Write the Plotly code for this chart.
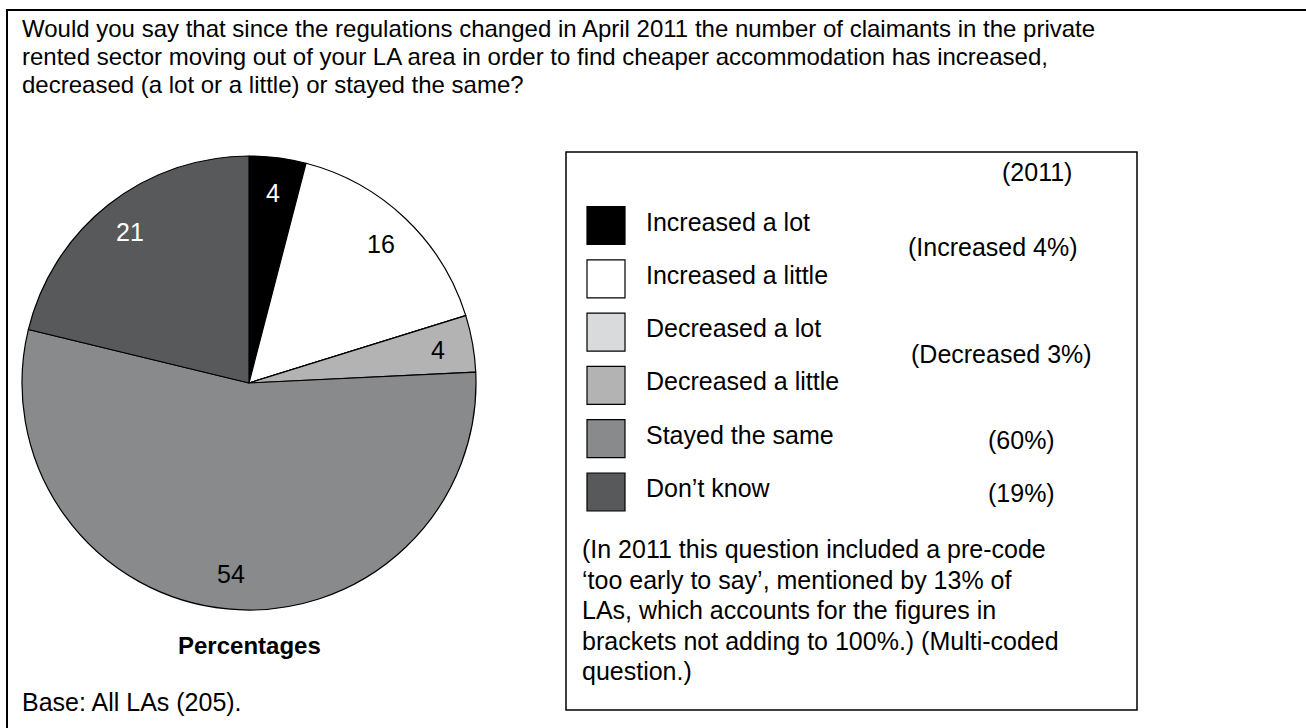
import math
import plotly.graph_objects as go

categories = ["Increased a lot", "Increased a little", "Decreased a lot",
              "Decreased a little", "Stayed the same", "Don\u2019t know"]
values_2012 = [4, 16, 0, 4, 54, 21]
labels_2011 = ["", "(Increased 4%)", "", "(Decreased 3%)", "(60%)", "(19%)"]
colors = ["#000000", "#ffffff", "#d9dadb", "#b3b3b3", "#898a8c", "#58595b"]
text_colors = ["#ffffff", "#000000", "#000000", "#000000", "#000000", "#ffffff"]

W, H = 1306, 728
FONT = "Liberation Sans, Arial, sans-serif"


def px(x):
    return x / W


def py(y):
    return 1 - y / H


cx, cy, r = 249, 383, 227

fig = go.Figure()
fig.add_trace(go.Pie(
    labels=categories,
    values=values_2012,
    textinfo="none",
    marker=dict(colors=colors, line=dict(color="#000000", width=1.2)),
    sort=False,
    direction="clockwise",
    rotation=0,
    showlegend=False,
    hoverinfo="label+value",
    domain=dict(x=[px(cx - r), px(cx + r)], y=[py(cy + r), py(cy - r)]),
))

shapes = []
annotations = []

# slice value labels, placed at each slice's mid-angle (derived from the data)
total = sum(values_2012)
cum = 0
for v, tc in zip(values_2012, text_colors):
    if v:
        mid = (cum + v / 2) / total * 2 * math.pi
        lr = 0.845 * r
        annotations.append(dict(x=px(cx + lr * math.sin(mid)), y=py(cy - lr * math.cos(mid)),
                                xref="paper", yref="paper", text=str(v), showarrow=False,
                                xanchor="center", yanchor="middle",
                                font=dict(size=25, color=tc, family=FONT)))
    cum += v

# outer frame (top and left)
shapes.append(dict(type="line", xref="paper", yref="paper",
                   x0=px(6), x1=1, y0=py(10), y1=py(10),
                   line=dict(color="#000000", width=2)))
shapes.append(dict(type="line", xref="paper", yref="paper",
                   x0=px(7), x1=px(7), y0=py(10), y1=0,
                   line=dict(color="#000000", width=2)))

# question text
question = ["Would you say that since the regulations changed in April 2011 the number of claimants in the private",
            "rented sector moving out of your LA area in order to find cheaper accommodation has increased,",
            "decreased (a lot or a little) or stayed the same?"]
for i, line in enumerate(question):
    annotations.append(dict(x=px(20), y=py(29 + 27.5 * i), xref="paper", yref="paper",
                            text=line, showarrow=False, xanchor="left", yanchor="middle",
                            font=dict(size=24, color="#000000", family=FONT)))

annotations.append(dict(x=px(cx), y=py(645), xref="paper", yref="paper",
                        text="<b>Percentages</b>", showarrow=False,
                        xanchor="center", yanchor="middle",
                        font=dict(size=24, color="#000000", family=FONT)))
annotations.append(dict(x=px(20), y=py(702), xref="paper", yref="paper",
                        text="Base: All LAs (205).", showarrow=False,
                        xanchor="left", yanchor="middle",
                        font=dict(size=25, color="#000000", family=FONT)))

# legend box
shapes.append(dict(type="rect", xref="paper", yref="paper",
                   x0=px(566), x1=px(1137), y0=py(710), y1=py(152),
                   line=dict(color="#000000", width=1.5), fillcolor="rgba(0,0,0,0)"))

annotations.append(dict(x=px(1037), y=py(172), xref="paper", yref="paper",
                        text="(2011)", showarrow=False, xanchor="center", yanchor="middle",
                        font=dict(size=25, color="#000000", family=FONT)))

row0, step = 225.5, 53.3
pos_2011 = {1: (993, 247), 3: (1002, 354), 4: (1021, 440), 5: (1021, 493)}
for i, (cat, col) in enumerate(zip(categories, colors)):
    yc = row0 + step * i
    shapes.append(dict(type="rect", xref="paper", yref="paper",
                       x0=px(587), x1=px(625), y0=py(yc + 19), y1=py(yc - 19),
                       line=dict(color="#000000", width=1.2), fillcolor=col))
    annotations.append(dict(x=px(644), y=py(yc - 4), xref="paper", yref="paper",
                            text=cat, showarrow=False, xanchor="left", yanchor="middle",
                            font=dict(size=25, color="#000000", family=FONT)))
    if labels_2011[i]:
        lx, ly = pos_2011[i]
        annotations.append(dict(x=px(lx), y=py(ly), xref="paper", yref="paper",
                                text=labels_2011[i], showarrow=False,
                                xanchor="center", yanchor="middle",
                                font=dict(size=25, color="#000000", family=FONT)))

note = ["(In 2011 this question included a pre-code",
        "\u2018too early to say\u2019, mentioned by 13% of",
        "LAs, which accounts for the figures in",
        "brackets not adding to 100%.) (Multi-coded",
        "question.)"]
for i, line in enumerate(note):
    annotations.append(dict(x=px(580), y=py(549 + 30.5 * i), xref="paper", yref="paper",
                            text=line, showarrow=False, xanchor="left", yanchor="middle",
                            font=dict(size=25, color="#000000", family=FONT)))

fig.update_layout(
    width=W, height=H,
    margin=dict(l=0, r=0, t=0, b=0),
    paper_bgcolor="#ffffff",
    plot_bgcolor="#ffffff",
    shapes=shapes,
    annotations=annotations,
    font=dict(family=FONT, color="#000000"),
)

fig.write_html("out.html",
               config={"displayModeBar": False},
               post_script="document.body.style.margin='0';document.body.style.padding='0';"
                           "document.body.style.overflow='hidden';")
